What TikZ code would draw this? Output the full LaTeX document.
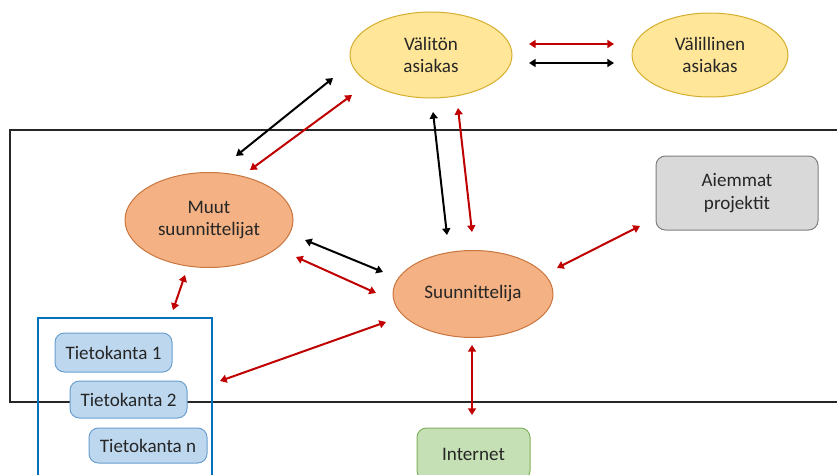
\documentclass[tikz,border=0pt]{standalone}
\usepackage{fontspec}
\setmainfont{Carlito}
\usetikzlibrary{shapes.geometric,arrows.meta}
\definecolor{yfill}{HTML}{FFE699}
\definecolor{ydraw}{HTML}{D6AE2E}
\definecolor{ofill}{HTML}{F4B183}
\definecolor{odraw}{HTML}{C9753E}
\definecolor{gfill}{HTML}{D9D9D9}
\definecolor{gdraw}{HTML}{7F7F7F}
\definecolor{bfill}{HTML}{BDD7EE}
\definecolor{bdraw}{HTML}{6A9FD0}
\definecolor{grfill}{HTML}{C5E0B4}
\definecolor{grdraw}{HTML}{7FB15E}
\definecolor{boxblue}{HTML}{0070C0}
\definecolor{ared}{HTML}{C00000}
\definecolor{txt}{HTML}{262626}
\begin{document}
\begin{tikzpicture}[x=0.75pt,y=-0.75pt,
  font=\fontsize{14.3}{17}\selectfont,
  every node/.style={text=txt, align=center, inner sep=0pt},
  yell/.style={ellipse, fill=yfill, draw=ydraw, line width=0.75pt},
  oran/.style={ellipse, fill=ofill, draw=odraw, line width=0.75pt},
  rbox/.style={rectangle, rounded corners=7pt, line width=0.75pt},
  biarrow/.style={{Triangle[length=5pt,width=6pt]}-{Triangle[length=5pt,width=6pt]}, line width=1.5pt},
  redarrow/.style={biarrow, ared},
  blackarrow/.style={biarrow, black}]
\useasboundingbox (0,0) rectangle (837,474);

% frames
\draw[line width=1.4pt, black!85] (838,130) -- (10,130) -- (10,402) -- (838,402);
\draw[line width=1.5pt, boxblue] (38,480) -- (38,318) -- (212,318) -- (212,480);

% nodes
\node[yell, minimum width=121.5pt, minimum height=64.5pt] (va) at (431,55) {Välitön\\asiakas};
\node[yell, minimum width=117pt, minimum height=63pt] (vl) at (710,55) {Välillinen\\asiakas};
\node[oran, minimum width=126pt, minimum height=71.25pt] (muut) at (209,220) {Muut\\suunnittelijat};
\node[oran, minimum width=120pt, minimum height=65.25pt] (su) at (473,294) {Suunnittelija};
\node[rbox, fill=gfill, draw=gdraw, minimum width=121.5pt, minimum height=55.5pt] (aiem) at (737,193) {Aiemmat\\projektit};
\node[rbox, fill=grfill, draw=grdraw, minimum width=84.75pt, minimum height=39pt] (net) at (473.5,454) {Internet};
\node[rbox, fill=bfill, draw=bdraw, minimum width=87.75pt, minimum height=29.25pt] (t1) at (113.5,352.5) {Tietokanta 1};
\node[rbox, fill=bfill, draw=bdraw, minimum width=87.75pt, minimum height=27.75pt] (t2) at (128.5,399.5) {Tietokanta 2};
\node[rbox, fill=bfill, draw=bdraw, minimum width=88.5pt, minimum height=26.25pt] (tn) at (148,445.5) {Tietokanta n};

% arrow end points
\coordinate (a1) at (529,44);  \coordinate (a2) at (614,44);
\coordinate (b1) at (529,63);  \coordinate (b2) at (614,63);
\coordinate (c1) at (333,78);  \coordinate (c2) at (236,156);
\coordinate (d1) at (352,95);  \coordinate (d2) at (250,170);
\coordinate (e1) at (433,112); \coordinate (e2) at (447,235);
\coordinate (f1) at (458,108); \coordinate (f2) at (472,232);
\coordinate (g1) at (305,240); \coordinate (g2) at (383,272);
\coordinate (h1) at (296,257); \coordinate (h2) at (376,293);
\coordinate (i1) at (185,275); \coordinate (i2) at (173,310);
\coordinate (j1) at (386,322); \coordinate (j2) at (220,381);
\coordinate (k1) at (557,268); \coordinate (k2) at (640,226);
\coordinate (l1) at (472,345); \coordinate (l2) at (472,415);

\draw[redarrow] (a1) -- (a2);
\draw[blackarrow] (b1) -- (b2);
\draw[blackarrow] (c1) -- (c2);
\draw[redarrow] (d1) -- (d2);
\draw[blackarrow] (e1) -- (e2);
\draw[redarrow] (f1) -- (f2);
\draw[blackarrow] (g1) -- (g2);
\draw[redarrow] (h1) -- (h2);
\draw[redarrow] (i1) -- (i2);
\draw[redarrow] (j1) -- (j2);
\draw[redarrow] (k1) -- (k2);
\draw[redarrow] (l1) -- (l2);
\end{tikzpicture}
\end{document}
